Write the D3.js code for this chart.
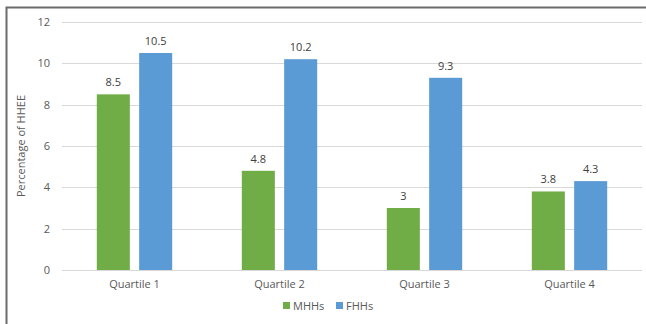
<!DOCTYPE html>
<html>
<head>
<meta charset="utf-8">
<script src="https://cdn.jsdelivr.net/npm/d3@7"></script>
<style>
  html, body { margin: 0; padding: 0; background: #fff; }
  svg { display: block; font-family: "Open Sans", "Liberation Sans", sans-serif; }
</style>
</head>
<body>
<svg id="chart" width="646" height="324"></svg>
<script>
// Household share by income quartile
const categories = ["Quartile 1", "Quartile 2", "Quartile 3", "Quartile 4"];
const seriesNames = ["MHHs", "FHHs"];
const mhhs = [8.5, 4.8, 3, 3.8];
const fhhs = [10.5, 10.2, 9.3, 4.3];
const yTicks = [0, 2, 4, 6, 8, 10, 12];
const colors = ["#70AD47", "#5B9BD5"];

const svg = d3.select("#chart");
const W = 646, H = 324;
const margin = { left: 62, right: 4, top: 22, bottom: 54 };

// frame
svg.append("rect")
  .attr("x", 6.5).attr("y", 7.5)
  .attr("width", W + 10).attr("height", H + 10)
  .attr("fill", "none").attr("stroke", "#6b6b6b").attr("stroke-width", 2);

const x0 = d3.scaleBand().domain(categories).range([margin.left, W - margin.right]);
const x1 = d3.scaleBand().domain(seriesNames)
  .range([x0.bandwidth() * 0.24, x0.bandwidth() * 0.76]).paddingInner(0.22);
const y = d3.scaleLinear().domain([0, 12]).range([H - margin.bottom, margin.top]);

// gridlines
svg.append("g").selectAll("line").data(yTicks).join("line")
  .attr("x1", margin.left).attr("x2", W - margin.right)
  .attr("y1", d => Math.round(y(d)) + 0.5).attr("y2", d => Math.round(y(d)) + 0.5)
  .attr("stroke", "#d9d9d9").attr("stroke-width", 1.2);

// y axis labels
const yAxis = d3.axisLeft(y).tickValues(yTicks).tickSize(0).tickPadding(12);
const gy = svg.append("g").attr("transform", `translate(${margin.left},0)`).call(yAxis);
gy.select(".domain").remove();
gy.selectAll("text").attr("fill", "#595959").style("font-size", "11px").style("font-family", "Open Sans, sans-serif");

// x axis labels
const xAxis = d3.axisBottom(x0).tickSize(0).tickPadding(10);
const gx = svg.append("g").attr("transform", `translate(0,${H - margin.bottom})`).call(xAxis);
gx.select(".domain").remove();
gx.selectAll("text").attr("fill", "#595959").style("font-size", "11px").style("font-family", "Open Sans, sans-serif");

// bars
const rows = categories.map((c, i) => ({ cat: c, vals: [mhhs[i], fhhs[i]] }));
const groups = svg.append("g").selectAll("g").data(rows).join("g")
  .attr("transform", d => `translate(${x0(d.cat)},0)`);

groups.selectAll("rect").data(d => d.vals.map((v, j) => ({ key: seriesNames[j], v, j }))).join("rect")
  .attr("x", d => x1(d.key)).attr("width", x1.bandwidth())
  .attr("y", d => y(d.v)).attr("height", d => y(0) - y(d.v))
  .attr("fill", d => colors[d.j]);

groups.selectAll("text.val").data(d => d.vals.map((v, j) => ({ key: seriesNames[j], v, j }))).join("text")
  .attr("class", "val")
  .attr("x", d => x1(d.key) + x1.bandwidth() / 2)
  .attr("y", d => y(d.v) - 8)
  .attr("text-anchor", "middle")
  .attr("fill", "#404040").style("font-size", "11px")
  .text(d => d3.format("")(d.v));

// y axis title
svg.append("text")
  .attr("transform", `translate(25,${(y(0) + y(12)) / 2}) rotate(-90)`)
  .attr("text-anchor", "middle")
  .attr("fill", "#595959").style("font-size", "11px")
  .text("Percentage of HHEE");

// legend
const legend = svg.append("g").attr("transform", "translate(283,306)");
const items = [{ name: "MHHs", x: 0 }, { name: "FHHs", x: 53 }];
items.forEach((it, i) => {
  legend.append("rect").attr("x", it.x).attr("y", -4).attr("width", 7).attr("height", 7).attr("fill", colors[i]);
  legend.append("text").attr("x", it.x + 10).attr("y", 0).attr("dy", "0.35em")
    .attr("fill", "#595959").style("font-size", "11px").text(it.name);
});
</script>
</body>
</html>
